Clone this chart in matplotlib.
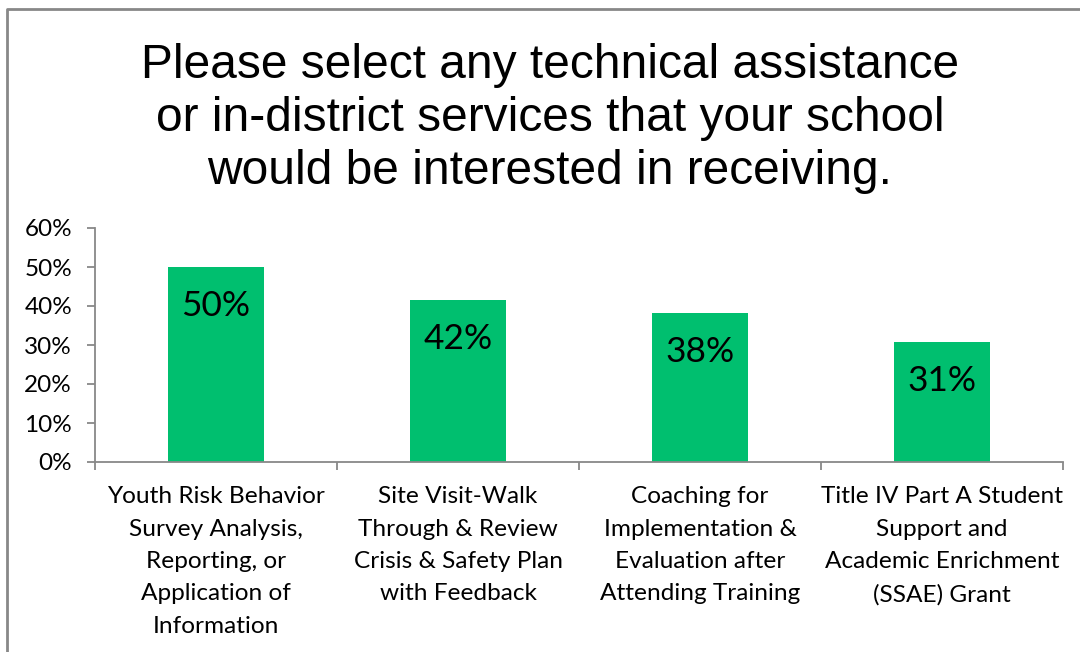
import matplotlib
matplotlib.use("Agg")
import matplotlib.pyplot as plt
from matplotlib.lines import Line2D
from matplotlib.ticker import FuncFormatter

categories = [
    "Youth Risk Behavior\nSurvey Analysis,\nReporting, or\nApplication of\nInformation",
    "Site Visit-Walk\nThrough & Review\nCrisis & Safety Plan\nwith Feedback",
    "Coaching for\nImplementation &\nEvaluation after\nAttending Training",
    "Title IV Part A Student\nSupport and\nAcademic Enrichment\n(SSAE) Grant",
]
values = [0.50, 0.415, 0.382, 0.308]
labels = ["50%", "42%", "38%", "31%"]
yticks = [0, 0.1, 0.2, 0.3, 0.4, 0.5, 0.6]
title = "Please select any technical assistance\nor in-district services that your school\nwould be interested in receiving."

W, H = 1080, 652
fig = plt.figure(figsize=(W / 100, H / 100), dpi=100)
fig.patch.set_facecolor("white")

ax = fig.add_axes([95 / W, 1 - 462 / H, (1063 - 95) / W, (462 - 228) / H])
x = list(range(len(categories)))
ax.bar(x, values, width=0.4, color="#00BF6F")
ax.set_xlim(-0.5, len(categories) - 0.5)
ax.set_ylim(0, 0.6)
ax.set_yticks(yticks)
ax.yaxis.set_major_formatter(FuncFormatter(lambda v, p: f"{v*100:.0f}%"))
ax.set_xticks([i - 0.5 for i in range(len(categories) + 1)], minor=False)
ax.set_xticklabels([])
ax.set_xticks(x, minor=True)
ax.set_xticklabels(categories, minor=True, fontsize=17.6, family="Lato",
                   linespacing=1.67, va="top")
ax.tick_params(axis="x", which="minor", length=0, pad=17.5)
ax.tick_params(axis="x", which="major", length=6, color="#888888", width=1.3)
ax.tick_params(axis="y", length=6, color="#888888", width=1.3, labelsize=17.5,
               pad=10.5)
for lbl in ax.get_yticklabels():
    lbl.set_family("Lato")
for s in ["top", "right"]:
    ax.spines[s].set_visible(False)
for s in ["left", "bottom"]:
    ax.spines[s].set_color("#888888")
    ax.spines[s].set_linewidth(1.3)

for xi, v, t in zip(x, values, labels):
    ax.annotate(t, (xi, v), xytext=(0, -39), textcoords="offset pixels",
                ha="center", va="center", fontsize=25.4, family="Lato")

fig.text(550 / W, 1 - 118.5 / H, title, ha="center", va="center", fontsize=34.5,
         family="Liberation Sans", linespacing=1.24)

fig.add_artist(Line2D([7 / W, 7 / W, 1.0], [0, 1 - 9 / H, 1 - 9 / H],
                      transform=fig.transFigure, color="#888888", lw=2))

fig.savefig("out.png", dpi=100)
